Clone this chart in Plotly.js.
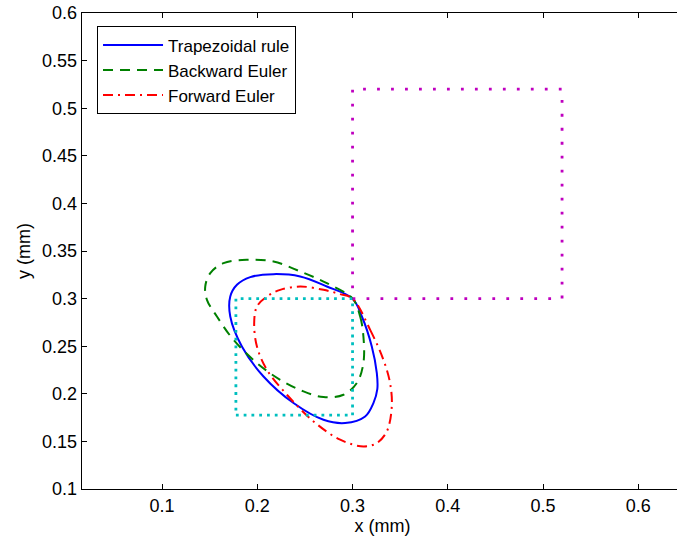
<!DOCTYPE html>
<html>
<head>
<meta charset="utf-8">
<script src="https://cdn.plot.ly/plotly-3.0.1.min.js"></script>
<style>
html,body{margin:0;padding:0;overflow:hidden;background:#fff;width:677px;height:543px;}
#chart{width:703px;height:543px;}
</style>
</head>
<body>
<div id="chart"></div>
<script>
// Trapezoidal rule (closed curve)
const trapX = [0.300, 0.3098, 0.3202, 0.3255, 0.3260, 0.3219, 0.3132, 0.2922, 0.2695, 0.2380, 0.2065, 0.1838, 0.1716, 0.1716, 0.1786, 0.1926, 0.2170, 0.2450, 0.2730, 0.300];
const trapY = [0.300, 0.2812, 0.2497, 0.2218, 0.2050, 0.1903, 0.1762, 0.1693, 0.1727, 0.1903, 0.2182, 0.2497, 0.2812, 0.3022, 0.3145, 0.3226, 0.3257, 0.3232, 0.3127, 0.300];
// Backward Euler
const backX = [0.300, 0.3080, 0.3114, 0.3114, 0.3045, 0.2905, 0.2695, 0.2485, 0.2240, 0.1996, 0.1750, 0.1576, 0.1471, 0.1453, 0.1506, 0.1645, 0.1891, 0.2170, 0.2450, 0.2730, 0.300];
const backY = [0.300, 0.2812, 0.2602, 0.2323, 0.2113, 0.1990, 0.1966, 0.2025, 0.2147, 0.2323, 0.2567, 0.2812, 0.2987, 0.3127, 0.3268, 0.3372, 0.3407, 0.3390, 0.3285, 0.3162, 0.300];
// Forward Euler
const fwdX = [0.300, 0.3185, 0.3324, 0.3394, 0.3412, 0.3360, 0.3255, 0.3114, 0.2870, 0.2590, 0.2311, 0.2101, 0.1996, 0.1967, 0.1996, 0.2101, 0.2240, 0.2450, 0.2695, 0.2870, 0.300];
const fwdY = [0.300, 0.2672, 0.2357, 0.2113, 0.1867, 0.1605, 0.1483, 0.1447, 0.1518, 0.1710, 0.1990, 0.2252, 0.2497, 0.2743, 0.2917, 0.3022, 0.3092, 0.3127, 0.3092, 0.3047, 0.300];
// Squares (corners)
const magX = [0.30, 0.52, 0.52, 0.30, 0.30];
const magY = [0.30, 0.30, 0.52, 0.52, 0.30];
const cyanX = [0.1775, 0.30, 0.30, 0.1775, 0.1775];
const cyanY = [0.1775, 0.1775, 0.30, 0.30, 0.1775];

const xTicks = [0.1, 0.2, 0.3, 0.4, 0.5, 0.6];
const yTicks = [0.1, 0.15, 0.2, 0.25, 0.3, 0.35, 0.4, 0.45, 0.5, 0.55, 0.6];
const legendNames = ['Trapezoidal rule', 'Backward Euler', 'Forward Euler'];

const traces = [
  {x: trapX, y: trapY, mode: 'lines', name: legendNames[0], line: {color: '#0000ff', width: 2, shape: 'spline', smoothing: 1}},
  {x: backX, y: backY, mode: 'lines', name: legendNames[1], line: {color: '#008000', width: 2, dash: '10px,7px', shape: 'spline', smoothing: 1}},
  {x: fwdX, y: fwdY, mode: 'lines', name: legendNames[2], line: {color: '#ff0000', width: 2, dash: '10px,5px,2px,5px', shape: 'spline', smoothing: 1}},
  {x: cyanX, y: cyanY, mode: 'lines', showlegend: false, line: {color: '#00bfbf', width: 2.8, dash: '2.8px,4.98px'}},
  {x: magX, y: magY, mode: 'lines', showlegend: false, line: {color: '#bf00bf', width: 2.8, dash: '2.8px,11.18px'}}
];

const font = {family: '"Liberation Sans", Arial, Helvetica, sans-serif', size: 18, color: '#000'};
const legFont = {family: '"Liberation Sans", Arial, Helvetica, sans-serif', size: 17, color: '#000'};

const layout = {
  width: 703, height: 543,
  margin: {l: 81.7, r: 19.8, t: 13, b: 53.7, pad: 0},
  paper_bgcolor: '#fff', plot_bgcolor: '#fff',
  font: font,
  showlegend: true,
  legend: {x: 0.025, y: 0.972, xanchor: 'left', yanchor: 'top', bgcolor: '#fff', bordercolor: '#000', borderwidth: 1, font: legFont, itemwidth: 60, tracegroupgap: 0},
  xaxis: {
    range: [0.0159, 0.647], tickvals: xTicks, ticktext: xTicks.map(String),
    ticks: 'inside', ticklen: 5, tickcolor: '#000', showline: true, linecolor: '#000', linewidth: 1.3,
    mirror: 'ticks', showgrid: false, zeroline: false, automargin: false,
    title: {text: 'x (mm)', font: font, standoff: 4}
  },
  yaxis: {
    range: [0.1, 0.6], tickvals: yTicks, ticktext: yTicks.map(String),
    ticks: 'inside', ticklen: 5, tickcolor: '#000', showline: true, linecolor: '#000', linewidth: 1.3,
    mirror: 'ticks', showgrid: false, zeroline: false, automargin: false,
    title: {text: 'y (mm)', font: font, standoff: 6}
  }
};

Plotly.newPlot('chart', traces, layout, {displayModeBar: false, staticPlot: true});
</script>
</body>
</html>
